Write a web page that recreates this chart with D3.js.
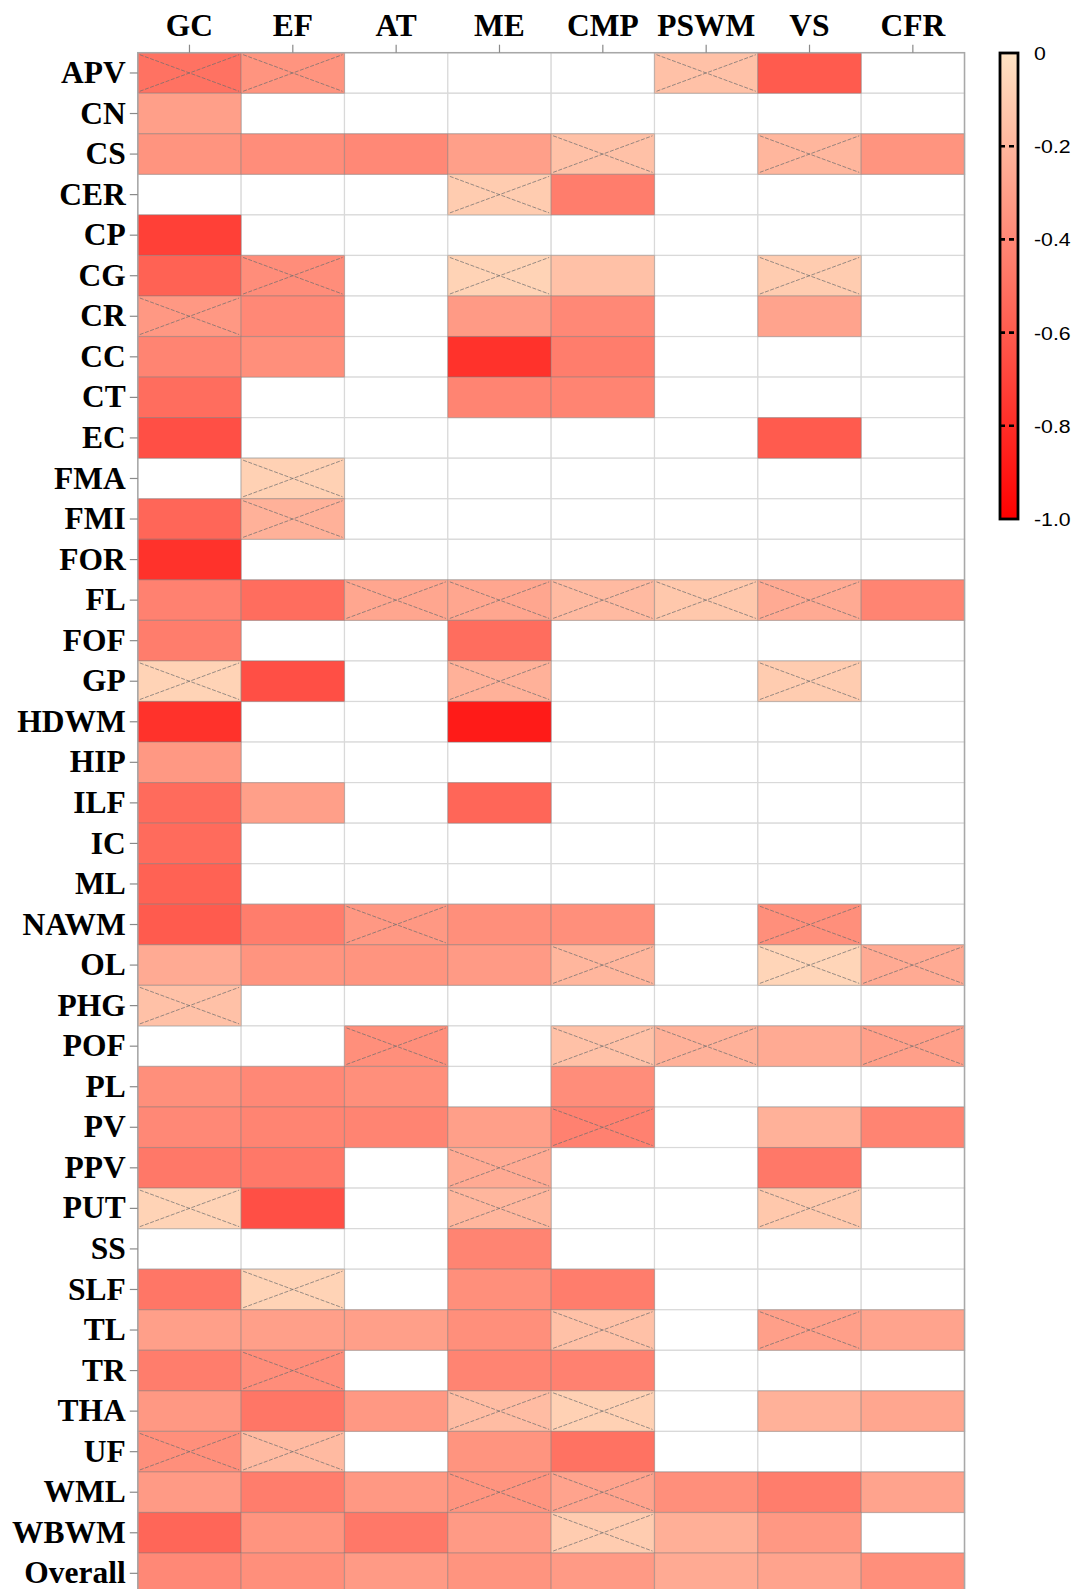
<!DOCTYPE html>
<html><head><meta charset="utf-8">
<script src="https://cdn.jsdelivr.net/npm/d3@7"></script>
<style>body{margin:0;background:#fff}</style>
</head><body>
<svg id="chart" width="1077" height="1589"></svg>
<script>
const rows = ["APV","CN","CS","CER","CP","CG","CR","CC","CT","EC","FMA","FMI","FOR","FL","FOF","GP","HDWM","HIP","ILF","IC","ML","NAWM","OL","PHG","POF","PL","PV","PPV","PUT","SS","SLF","TL","TR","THA","UF","WML","WBWM","Overall"];
const cols = ["GC","EF","AT","ME","CMP","PSWM","VS","CFR"];
const _ = null;
//            APV  CN    CS    CER   CP    CG    CR    CC    CT    EC    FMA   FMI   FOR   FL    FOF   GP    HDWM  HIP   ILF   IC    ML    NAWM  OL    PHG   POF   PL    PV    PPV   PUT   SS    SLF   TL    TR    THA   UF    WML   WBWM  Overall
const valsGC   = [-0.50,-0.30,-0.35,_,   -0.72,-0.57,-0.33,-0.42,-0.52,-0.65,_,   -0.55,-0.78,-0.43,-0.45,-0.07,-0.78,-0.33,-0.53,-0.53,-0.57,-0.60,-0.25,-0.15,_,   -0.37,-0.40,-0.47,-0.07,_,   -0.48,-0.30,-0.45,-0.33,-0.37,-0.32,-0.55,-0.40];
const valsEF   = [-0.35,_,   -0.38,_,   _,   -0.38,-0.40,-0.37,_,   _,   -0.08,-0.22,_,   -0.52,_,   -0.65,_,   _,   -0.30,_,   _,   -0.45,-0.35,_,   _,   -0.40,-0.42,-0.47,-0.65,_,   -0.07,-0.30,-0.38,-0.48,-0.18,-0.45,-0.35,-0.37];
const valsAT   = [_,   _,   -0.40,_,   _,   _,   _,   _,   _,   _,   _,   _,   _,   -0.27,_,   _,   _,   _,   _,   _,   _,   -0.33,-0.35,_,   -0.37,-0.37,-0.42,_,   _,   _,   _,   -0.30,_,   -0.33,_,   -0.33,-0.47,-0.32];
const valsME   = [_,   _,   -0.30,-0.10,_,   -0.07,-0.32,-0.78,-0.42,_,   _,   _,   _,   -0.27,-0.52,-0.22,-0.88,_,   -0.55,_,   _,   -0.37,-0.32,_,   _,   _,   -0.30,-0.25,-0.20,-0.42,-0.37,-0.37,-0.42,-0.17,-0.35,-0.35,-0.32,-0.35];
const valsCMP  = [_,   _,   -0.15,-0.45,_,   -0.15,-0.40,-0.45,-0.42,_,   _,   _,   _,   -0.18,_,   _,   _,   _,   _,   _,   _,   -0.37,-0.20,_,   -0.15,-0.38,-0.43,_,   _,   _,   -0.45,-0.15,-0.43,-0.08,-0.50,-0.28,-0.10,-0.32];
const valsPSWM = [-0.15,_,   _,   _,   _,   _,   _,   _,   _,   _,   _,   _,   _,   -0.12,_,   _,   _,   _,   _,   _,   _,   _,   _,   _,   -0.22,_,   _,   _,   _,   _,   _,   _,   _,   _,   _,   -0.37,-0.23,-0.25];
const valsVS   = [-0.60,_,   -0.20,_,   _,   -0.10,-0.28,_,   _,   -0.60,_,   _,   _,   -0.25,_,   -0.10,_,   _,   _,   _,   _,   -0.37,-0.06,_,   -0.25,_,   -0.22,-0.47,-0.12,_,   _,   -0.30,_,   -0.22,_,   -0.45,-0.33,-0.28];
const valsCFR  = [_,   _,   -0.35,_,   _,   _,   _,   _,   _,   _,   _,   _,   _,   -0.42,_,   _,   _,   _,   _,   _,   _,   _,   -0.25,_,   -0.30,_,   -0.42,_,   _,   _,   _,   -0.28,_,   -0.27,_,   -0.28,_,   -0.37];
const colValues = [valsGC, valsEF, valsAT, valsME, valsCMP, valsPSWM, valsVS, valsCFR];
// cells marked with a cross
const crossedCells = [
  ["APV","GC"],["APV","EF"],["APV","PSWM"],["CS","CMP"],["CS","VS"],["CER","ME"],
  ["CG","EF"],["CG","ME"],["CG","VS"],["CR","GC"],["FMA","EF"],["FMI","EF"],
  ["FL","AT"],["FL","ME"],["FL","CMP"],["FL","PSWM"],["FL","VS"],
  ["GP","GC"],["GP","ME"],["GP","VS"],["NAWM","AT"],["NAWM","VS"],
  ["OL","CMP"],["OL","VS"],["OL","CFR"],["PHG","GC"],
  ["POF","AT"],["POF","CMP"],["POF","PSWM"],["POF","CFR"],["PV","CMP"],["PPV","ME"],
  ["PUT","GC"],["PUT","ME"],["PUT","VS"],["SLF","EF"],["TL","CMP"],["TL","VS"],
  ["TR","EF"],["THA","ME"],["THA","CMP"],["UF","GC"],["UF","EF"],
  ["WML","ME"],["WML","CMP"],["WBWM","CMP"]
];
const legendTicks = [0,-0.2,-0.4,-0.6,-0.8,-1.0];
const legendTickLabels = ["0","-0.2","-0.4","-0.6","-0.8","-1.0"];

const svg = d3.select("#chart");
const plotLeft = 137.8, plotTop = 52.7, cellW = 103.34, cellH = 40.55;
const x = d3.scaleBand().domain(cols).range([plotLeft, plotLeft + cellW*cols.length]);
const y = d3.scaleBand().domain(rows).range([plotTop, plotTop + cellH*rows.length]);
const color = d3.scaleLinear().domain([0,-1]).range(["#FFE3C4","#FF0000"]).interpolate(d3.interpolateRgb);

const crossSet = new Set(crossedCells.map(d => d[0]+"|"+d[1]));
const cells = [];
rows.forEach((r,i) => cols.forEach((c,j) => cells.push({r, c, v: colValues[j][i], cross: crossSet.has(r+"|"+c)})));

// background grid
svg.append("g").selectAll("rect").data(cells).join("rect")
  .attr("x", d => x(d.c)).attr("y", d => y(d.r))
  .attr("width", x.bandwidth()).attr("height", y.bandwidth())
  .attr("fill", "#fff").attr("stroke", "#d9d9d9").attr("stroke-width", 1.2);

const filled = cells.filter(d => d.v !== null);
svg.append("g").selectAll("rect").data(filled).join("rect")
  .attr("x", d => x(d.c)).attr("y", d => y(d.r))
  .attr("width", x.bandwidth()).attr("height", y.bandwidth())
  .attr("fill", d => color(d.v)).attr("stroke", "rgba(120,120,120,0.35)").attr("stroke-width", 1.2);

// crosses
const cg = svg.append("g").attr("stroke", "#6e6e6e").attr("stroke-width", 0.9).attr("stroke-opacity", 0.8).attr("stroke-dasharray", "4,1.5");
filled.filter(d => d.cross).forEach(d => {
  const x0 = x(d.c) + 2, x1 = x(d.c) + x.bandwidth() - 2, y0 = y(d.r) + 2, y1 = y(d.r) + y.bandwidth() - 2;
  cg.append("line").attr("x1", x0).attr("y1", y0).attr("x2", x1).attr("y2", y1);
  cg.append("line").attr("x1", x0).attr("y1", y1).attr("x2", x1).attr("y2", y0);
});

// frame
svg.append("rect").attr("x", plotLeft).attr("y", plotTop).attr("width", cellW*cols.length).attr("height", cellH*rows.length)
  .attr("fill", "none").attr("stroke", "#a8a8a8").attr("stroke-width", 1.5);

// axes
const fontSerif = "'Liberation Serif','Times New Roman',serif";
const ax = svg.append("g").attr("transform", `translate(0,${plotTop})`).call(d3.axisTop(x).tickSize(8).tickPadding(9));
const ay = svg.append("g").attr("transform", `translate(${plotLeft},0)`).call(d3.axisLeft(y).tickSize(8).tickPadding(4));
[ax, ay].forEach(a => {
  a.select(".domain").remove();
  a.selectAll(".tick line").attr("stroke", "#8a8a8a").attr("stroke-width", 1.2);
  a.selectAll(".tick text").attr("font-family", fontSerif).attr("font-weight", "bold").attr("font-size", 31.5).attr("fill", "#000");
});

// legend
const lgX = 1000, lgW = 18, lgTop = 53, lgBot = 519;
const ly = d3.scaleLinear().domain([0,-1]).range([lgTop, lgBot]);
const defs = svg.append("defs");
const grad = defs.append("linearGradient").attr("id", "lg").attr("x1", 0).attr("y1", 0).attr("x2", 0).attr("y2", 1);
d3.range(0, 1.001, 0.1).forEach(t => grad.append("stop").attr("offset", t).attr("stop-color", color(-t)));
svg.append("rect").attr("x", lgX).attr("y", lgTop).attr("width", lgW).attr("height", lgBot - lgTop)
  .attr("fill", "url(#lg)").attr("stroke", "#000").attr("stroke-width", 2.8);
const lt = svg.append("g");
legendTicks.forEach((t, i) => {
  if (i > 0 && i < legendTicks.length - 1) {
    lt.append("line").attr("x1", lgX).attr("x2", lgX + lgW).attr("y1", ly(t)).attr("y2", ly(t))
      .attr("stroke", "#000").attr("stroke-width", 2.6).attr("stroke-dasharray", "5,4");
  }
  lt.append("text").attr("transform", `translate(${lgX + lgW + 16},${ly(t) + 2}) scale(1.12,1)`)
    .attr("dominant-baseline", "middle")
    .attr("font-family", "'Liberation Sans',Arial,sans-serif").attr("font-size", 19).attr("fill", "#000")
    .text(legendTickLabels[i]);
});
</script>
</body></html>
